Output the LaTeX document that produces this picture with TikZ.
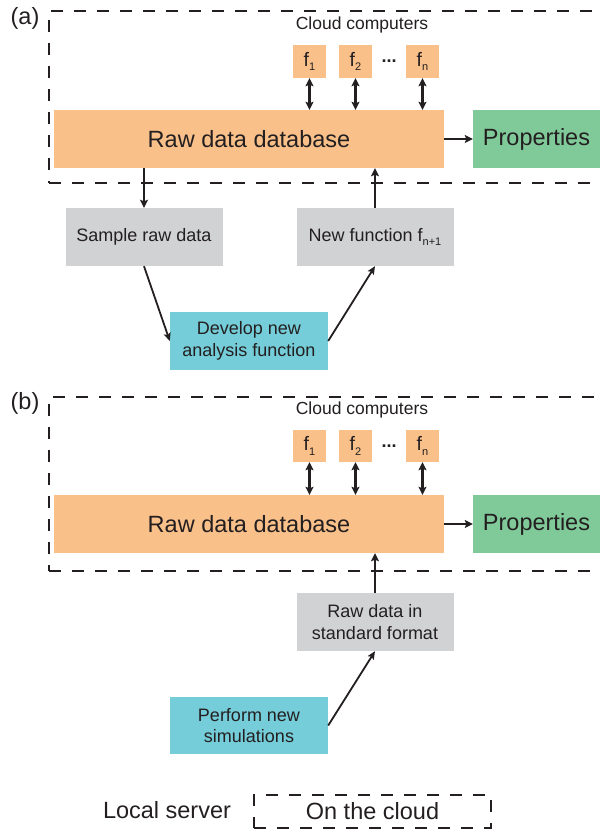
\documentclass[tikz,border=0pt]{standalone}
\usepackage{fontspec}
\setmainfont{Liberation Sans}
\usetikzlibrary{arrows.meta,calc}
\definecolor{txt}{HTML}{231F20}
\definecolor{orng}{HTML}{F9C08A}
\definecolor{grn}{HTML}{80CA9A}
\definecolor{cyn}{HTML}{74CDD8}
\definecolor{gry}{HTML}{D1D2D4}
\newcommand\mysub[1]{\raisebox{-4.5pt}{\fontsize{11}{11}\selectfont #1}}
\tikzset{
  box/.style={inner sep=0pt, align=center, text=txt, font=\fontsize{18}{21.7}\selectfont},
  bigbox/.style={box, fill=orng, font=\fontsize{23.5}{28}\selectfont},
  fbox/.style={box, fill=orng, minimum width=33pt, minimum height=33pt, font=\fontsize{19.5}{22}\selectfont},
  graybox/.style={box, fill=gry, minimum width=157pt, minimum height=58pt},
  cyanbox/.style={box, fill=cyn, minimum width=158pt, minimum height=58pt},
  propbox/.style={box, fill=grn, minimum width=127pt, minimum height=58pt, font=\fontsize{23.5}{28}\selectfont},
  cloudbox/.style={draw=txt, line width=2pt, dash pattern=on 12pt off 11pt, inner sep=0pt},
  lbl/.style={inner sep=0pt, text=txt},
  arr/.style={draw=txt, line width=2.7pt, -{Stealth[length=8pt,width=8pt,inset=1.5pt]}},
  darr/.style={draw=txt, line width=2.6pt, {Stealth[length=8pt,width=8pt,inset=1.5pt]}-{Stealth[length=8pt,width=8pt,inset=1.5pt]}},
  thin/.style={draw=txt, line width=1.8pt, -{Stealth[length=8pt,width=7pt,inset=1.5pt]}}
}
\begin{document}
\begin{tikzpicture}[x=1pt,y=-1pt]
\useasboundingbox (0,0) rectangle (600,833);
% ---------------- panel (a)
\node[lbl, font=\fontsize{23.5}{28}\selectfont] (labA) at (25,18) {(a)};
\node[cloudbox, minimum width=565pt, minimum height=172pt] (cloudA) at (331.5,97) {};
\node[lbl, font=\fontsize{17.5}{21}\selectfont] (ccA) at (362,25) {Cloud computers};
\node[fbox] (f1A) at (309.5,61.5) {f\mysub{1}};
\node[fbox] (f2A) at (355.5,61.5) {f\mysub{2}};
\node[fbox] (fnA) at (422.5,61.5) {f\mysub{n}};
\node[lbl, font=\fontsize{18}{21}\selectfont\bfseries] (dotsA) at (389,61) {...};
\node[bigbox, minimum width=390pt, minimum height=58pt] (rawA) at (249,139) {Raw data database};
\node[propbox] (propA) at (536.5,139) {Properties};
\node[graybox] (sampleA) at (144,237) {Sample raw data};
\node[graybox] (newA) at (375,237) {New function f\mysub{n+1}};
\node[cyanbox] (devA) at (249,341) {Develop new\\analysis function};
\draw[darr] (f1A.south) -- (f1A.south |- rawA.north);
\draw[darr] (f2A.south) -- (f2A.south |- rawA.north);
\draw[darr] (fnA.south) -- (fnA.south |- rawA.north);
\draw[arr] (rawA.east) -- (propA.west);
\draw[arr] (sampleA.north |- rawA.south) -- (sampleA.north);
\draw[arr] (newA.north) -- (newA.north |- rawA.south);
\draw[thin] (sampleA.south) -- (devA.west);
\draw[thin] (devA.east) -- (newA.south);
% ---------------- panel (b)
\node[lbl, font=\fontsize{23.5}{28}\selectfont] (labB) at (25,403) {(b)};
\node[cloudbox, minimum width=565pt, minimum height=174pt] (cloudB) at (331.5,484) {};
\node[lbl, font=\fontsize{17.5}{21}\selectfont] (ccB) at (362,410) {Cloud computers};
\node[fbox, minimum height=32pt] (f1B) at (309.5,446) {f\mysub{1}};
\node[fbox, minimum height=32pt] (f2B) at (355.5,446) {f\mysub{2}};
\node[fbox, minimum height=32pt] (fnB) at (422.5,446) {f\mysub{n}};
\node[lbl, font=\fontsize{18}{21}\selectfont\bfseries] (dotsB) at (389,446) {...};
\node[bigbox, minimum width=390pt, minimum height=58pt] (rawB) at (249,524) {Raw data database};
\node[propbox] (propB) at (536.5,524) {Properties};
\node[graybox] (stdB) at (375,622) {Raw data in\\standard format};
\node[cyanbox, minimum height=57pt] (perfB) at (249,725.5) {Perform new\\simulations};
\draw[darr] (f1B.south) -- (f1B.south |- rawB.north);
\draw[darr] (f2B.south) -- (f2B.south |- rawB.north);
\draw[darr] (fnB.south) -- (fnB.south |- rawB.north);
\draw[arr] (rawB.east) -- (propB.west);
\draw[arr] (stdB.north) -- (stdB.north |- rawB.south);
\draw[thin] (perfB.east) -- (stdB.south);
% ---------------- legend
\node[lbl, font=\fontsize{23.5}{28}\selectfont] (local) at (167,810) {Local server};
\node[cloudbox, minimum width=237pt, minimum height=33pt, font=\fontsize{23.5}{28}\selectfont, text=txt] (cloudL) at (372.5,811.5) {On the cloud};
\end{tikzpicture}
\end{document}
